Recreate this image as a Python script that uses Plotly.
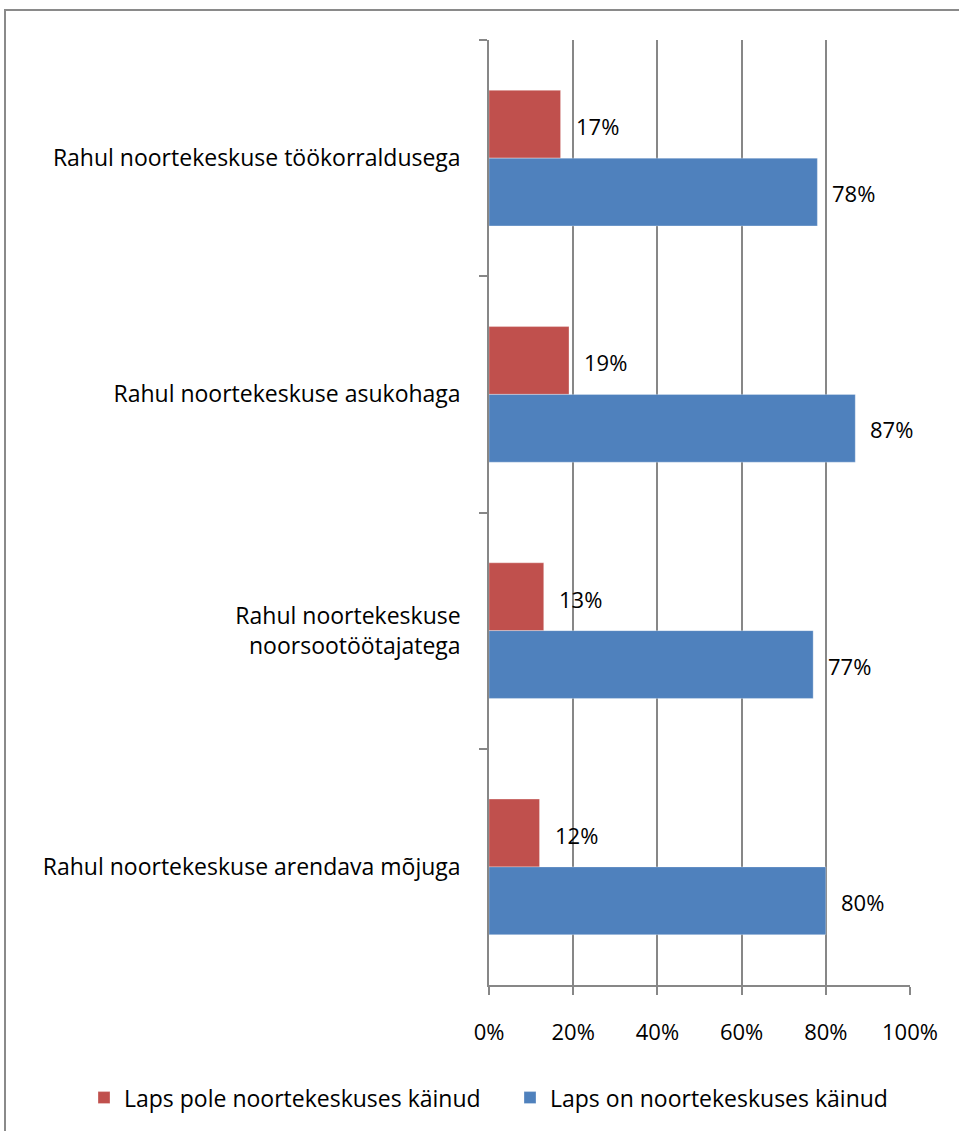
import plotly.graph_objects as go

categories = [
    "Rahul noortekeskuse töökorraldusega",
    "Rahul noortekeskuse asukohaga",
    "Rahul noortekeskuse<br>noorsootöötajatega",
    "Rahul noortekeskuse arendava mõjuga",
]
series_names = ["Laps pole noortekeskuses käinud", "Laps on noortekeskuses käinud"]
not_attended = [17, 19, 13, 12]
attended = [78, 87, 77, 80]
x_ticks = [0, 20, 40, 60, 80, 100]
x_tick_labels = ["0%", "20%", "40%", "60%", "80%", "100%"]

RED = "#C0504D"
BLUE = "#4F81BD"
GRID = "#878787"
FONT = "Open Sans"
FS = 23
FS_SMALL = 22

W, H = 959, 1131
ML, MR, MT, MB = 489, 49, 40, 143
plot_w = W - ML - MR
plot_h = H - MT - MB
bargap = 0.426
band_px = plot_h / len(categories)
bar_px = band_px * (1 - bargap) / 2

fig = go.Figure()
for name, vals, col in [(series_names[0], not_attended, RED), (series_names[1], attended, BLUE)]:
    fig.add_trace(go.Bar(
        y=categories, x=vals, name=name, orientation="h",
        marker=dict(color=col, line=dict(color="rgba(255,255,255,0.6)", width=0.5)),
        hoverinfo="x+y",
    ))

annotations = []
for vals, shift in [(not_attended, bar_px / 2 - 2), (attended, -bar_px / 2 - 1)]:
    for c, v in zip(categories, vals):
        annotations.append(dict(
            x=v, y=c, xref="x", yref="y", text=f"{v}%", showarrow=False,
            xanchor="left", yanchor="middle", xshift=13, yshift=shift,
            font=dict(family=FONT, size=FS_SMALL, color="#000000"),
        ))

def px_to_paper_x(px):
    return (px - ML) / plot_w

def px_to_paper_y(py):
    return (H - MB - py) / plot_h

fig.update_layout(
    width=W, height=H,
    margin=dict(l=ML, r=MR, t=MT, b=MB, pad=0),
    paper_bgcolor="white", plot_bgcolor="white",
    barmode="group", bargap=bargap, bargroupgap=0,
    font=dict(family=FONT, size=FS, color="#000000"),
    showlegend=True,
    legend=dict(
        orientation="h", x=px_to_paper_x(84), xanchor="left",
        y=px_to_paper_y(1101), yanchor="middle",
        font=dict(family=FONT, size=FS, color="#000000"),
        entrywidth=381, entrywidthmode="pixels", traceorder="normal",
        bgcolor="rgba(0,0,0,0)",
    ),
    annotations=annotations,
    shapes=[dict(
        type="rect", xref="paper", yref="paper",
        x0=px_to_paper_x(5), x1=px_to_paper_x(975),
        y0=px_to_paper_y(1150), y1=px_to_paper_y(10),
        line=dict(color="#8a8a8a", width=2), fillcolor="rgba(0,0,0,0)", layer="below",
    )],
)

fig.update_xaxes(
    range=[0, 100], tickvals=x_ticks, ticktext=x_tick_labels,
    showgrid=True, gridcolor=GRID, gridwidth=1.5,
    showline=True, linecolor=GRID, linewidth=1.5,
    ticks="outside", ticklen=8, tickcolor=GRID, tickwidth=1.5,
    zeroline=False, ticklabelstandoff=19,
    tickfont=dict(family=FONT, size=FS_SMALL, color="#000000"),
)
fig.update_yaxes(
    type="category", range=[len(categories) - 0.5, -0.5],
    showgrid=False, showline=True, linecolor=GRID, linewidth=1.5,
    ticks="outside", ticklen=8, tickcolor=GRID, tickwidth=1.5, tickson="boundaries",
    zeroline=False, ticklabelstandoff=22,
    tickfont=dict(family=FONT, size=FS, color="#000000"),
)

fig.write_html(
    "out.html",
    config={"displayModeBar": False},
    post_script="document.body.style.margin='0';document.body.style.overflow='hidden';",
)
